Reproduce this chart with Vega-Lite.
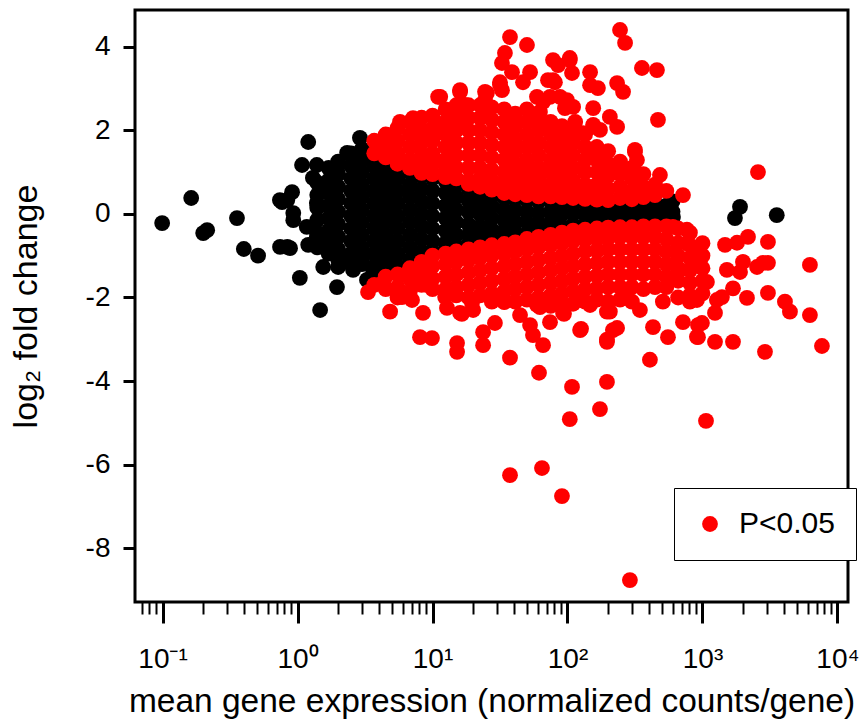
{
  "$schema": "https://vega.github.io/schema/vega-lite/v6.json",
  "width": 713,
  "height": 592,
  "autosize": {"type": "none"},
  "padding": {"left": 135, "top": 10, "right": 11, "bottom": 119},
  "background": "white",
  "config": {
    "view": {"stroke": "black", "strokeWidth": 3},
    "font": "Liberation Sans"
  },
  "datasets": {
    "ns": [
      {"m":1.4,"l":0.75},{"m":1.4,"l":0.45},{"m":1.4,"l":0.15},{"m":1.4,"l":-0.15},{"m":1.4,"l":-0.45},{"m":1.4,"l":-0.8},
      {"m":1.7,"l":1.1},{"m":1.7,"l":0.8},{"m":1.7,"l":0.5},{"m":1.7,"l":0.2},{"m":1.7,"l":-0.1},{"m":1.7,"l":-0.4},{"m":1.7,"l":-0.7},{"m":1.7,"l":-0.95},
      {"m":2,"l":1.25},{"m":2,"l":0.95},{"m":2,"l":0.65},{"m":2,"l":0.35},{"m":2,"l":0.05},{"m":2,"l":-0.25},{"m":2,"l":-0.55},{"m":2,"l":-0.85},{"m":2,"l":-1.1},
      {"m":2.5,"l":1.45},{"m":2.5,"l":1.15},{"m":2.5,"l":0.85},{"m":2.5,"l":0.55},{"m":2.5,"l":0.25},{"m":2.5,"l":-0.05},{"m":2.5,"l":-0.35},{"m":2.5,"l":-0.65},{"m":2.5,"l":-0.95},{"m":2.5,"l":-1.2},
      {"m":3,"l":1.55},{"m":3,"l":1.3},{"m":3,"l":1.0},{"m":3,"l":0.7},{"m":3,"l":0.4},{"m":3,"l":0.1},{"m":3,"l":-0.2},{"m":3,"l":-0.5},{"m":3,"l":-0.8},{"m":3,"l":-1.05},{"m":3,"l":-1.2},
      {"m":3.7,"l":1.45},{"m":3.7,"l":1.15},{"m":3.7,"l":0.85},{"m":3.7,"l":0.55},{"m":3.7,"l":0.25},{"m":3.7,"l":-0.05},{"m":3.7,"l":-0.35},{"m":3.7,"l":-0.65},{"m":3.7,"l":-0.95},{"m":3.7,"l":-1.25},
      {"m":4.5,"l":1.3},{"m":4.5,"l":1.0},{"m":4.5,"l":0.7},{"m":4.5,"l":0.4},{"m":4.5,"l":0.1},{"m":4.5,"l":-0.2},{"m":4.5,"l":-0.5},{"m":4.5,"l":-0.8},{"m":4.5,"l":-1.1},{"m":4.5,"l":-1.3},
      {"m":5.5,"l":1.15},{"m":5.5,"l":0.85},{"m":5.5,"l":0.55},{"m":5.5,"l":0.25},{"m":5.5,"l":-0.05},{"m":5.5,"l":-0.35},{"m":5.5,"l":-0.65},{"m":5.5,"l":-0.95},{"m":5.5,"l":-1.25},
      {"m":6.8,"l":1.0},{"m":6.8,"l":0.7},{"m":6.8,"l":0.4},{"m":6.8,"l":0.1},{"m":6.8,"l":-0.2},{"m":6.8,"l":-0.5},{"m":6.8,"l":-0.8},{"m":6.8,"l":-1.1},
      {"m":8.3,"l":0.9},{"m":8.3,"l":0.6},{"m":8.3,"l":0.3},{"m":8.3,"l":0},{"m":8.3,"l":-0.3},{"m":8.3,"l":-0.6},{"m":8.3,"l":-0.9},
      {"m":10,"l":0.85},{"m":10,"l":0.55},{"m":10,"l":0.25},{"m":10,"l":-0.05},{"m":10,"l":-0.35},{"m":10,"l":-0.65},{"m":10,"l":-0.9},
      {"m":12.5,"l":0.78},{"m":12.5,"l":0.5},{"m":12.5,"l":0.2},{"m":12.5,"l":-0.1},{"m":12.5,"l":-0.4},{"m":12.5,"l":-0.7},{"m":12.5,"l":-0.85},
      {"m":15,"l":0.7},{"m":15,"l":0.4},{"m":15,"l":0.1},{"m":15,"l":-0.2},{"m":15,"l":-0.5},{"m":15,"l":-0.78},
      {"m":18.5,"l":0.6},{"m":18.5,"l":0.32},{"m":18.5,"l":0.05},{"m":18.5,"l":-0.25},{"m":18.5,"l":-0.5},{"m":18.5,"l":-0.72},
      {"m":22.5,"l":0.53},{"m":22.5,"l":0.25},{"m":22.5,"l":0},{"m":22.5,"l":-0.3},{"m":22.5,"l":-0.55},{"m":22.5,"l":-0.68},
      {"m":27.5,"l":0.45},{"m":27.5,"l":0.18},{"m":27.5,"l":-0.1},{"m":27.5,"l":-0.38},{"m":27.5,"l":-0.62},
      {"m":34,"l":0.38},{"m":34,"l":0.1},{"m":34,"l":-0.15},{"m":34,"l":-0.4},{"m":34,"l":-0.6},
      {"m":41,"l":0.35},{"m":41,"l":0.08},{"m":41,"l":-0.2},{"m":41,"l":-0.45},{"m":41,"l":-0.56},
      {"m":50,"l":0.33},{"m":50,"l":0.05},{"m":50,"l":-0.2},{"m":50,"l":-0.48},
      {"m":61,"l":0.3},{"m":61,"l":0.02},{"m":61,"l":-0.25},{"m":61,"l":-0.42},
      {"m":75,"l":0.3},{"m":75,"l":0.05},{"m":75,"l":-0.2},{"m":75,"l":-0.37},
      {"m":91,"l":0.28},{"m":91,"l":0},{"m":91,"l":-0.3},
      {"m":110,"l":0.25},{"m":110,"l":0},{"m":110,"l":-0.27},
      {"m":135,"l":0.25},{"m":135,"l":0},{"m":135,"l":-0.25},
      {"m":165,"l":0.23},{"m":165,"l":0},{"m":165,"l":-0.22},
      {"m":200,"l":0.22},{"m":200,"l":-0.02},{"m":200,"l":-0.22},
      {"m":245,"l":0.22},{"m":245,"l":0},{"m":245,"l":-0.22},
      {"m":300,"l":0.22},{"m":300,"l":0},{"m":300,"l":-0.2},
      {"m":365,"l":0.2},{"m":365,"l":-0.02},{"m":365,"l":-0.2},
      {"m":445,"l":0.25},{"m":445,"l":-0.03},{"m":445,"l":-0.18},
      {"m":540,"l":0.2},{"m":540,"l":-0.05},{"m":540,"l":-0.15},
      {"m":600,"l":0.3},{"m":600,"l":0.05},{"m":600,"l":-0.1},
      {"m":408,"l":0.26},{"m":509,"l":0.14},{"m":603,"l":-0.07},
      {"m":0.0993,"l":-0.22},{"m":0.163,"l":0.38},{"m":0.2,"l":-0.46},{"m":0.214,"l":-0.39},{"m":0.356,"l":-0.1},
      {"m":0.4,"l":-0.84},{"m":0.51,"l":-1.0},{"m":0.742,"l":-0.79},{"m":0.88,"l":-0.82},{"m":0.768,"l":0.28},
      {"m":0.911,"l":0.52},{"m":0.93,"l":0.02},{"m":1.08,"l":1.17},{"m":1.04,"l":-1.53},{"m":1.2,"l":1.72},
      {"m":1.39,"l":1.17},{"m":1.96,"l":1.05},{"m":1.3,"l":0.86},{"m":1.68,"l":0.62},{"m":0.74,"l":0.33},
      {"m":1.39,"l":0.26},{"m":2.33,"l":1.46},{"m":2.9,"l":1.82},{"m":2.76,"l":1.0},{"m":1.2,"l":-0.74},
      {"m":1.55,"l":-1.27},{"m":2.0,"l":-1.27},{"m":1.96,"l":-1.75},{"m":1.47,"l":-2.3},{"m":2.45,"l":-1.03},
      {"m":3.27,"l":-1.58},{"m":4.6,"l":-1.03},{"m":0.84,"l":0.33},{"m":0.93,"l":-0.15},{"m":1.17,"l":-0.31},
      {"m":0.84,"l":-0.79},{"m":1.39,"l":-0.55},{"m":1.8,"l":-0.86},{"m":2.17,"l":-1.03},{"m":2.58,"l":-1.34},
      {"m":3.63,"l":-1.41},{"m":5.1,"l":-1.17},
      {"m":1897,"l":0.17},{"m":1740,"l":-0.1},{"m":3550,"l":-0.03}
    ],
    "sig": [
      {"m":3.7,"l":1.75},{"m":3.7,"l":1.45},
      {"m":4.5,"l":1.9},{"m":4.5,"l":1.6},{"m":4.5,"l":1.35},
      {"m":5.5,"l":2.05},{"m":5.5,"l":1.75},{"m":5.5,"l":1.45},{"m":5.5,"l":1.2},
      {"m":6.8,"l":2.2},{"m":6.8,"l":1.9},{"m":6.8,"l":1.6},{"m":6.8,"l":1.3},{"m":6.8,"l":1.1},
      {"m":8.3,"l":2.3},{"m":8.3,"l":2.0},{"m":8.3,"l":1.7},{"m":8.3,"l":1.4},{"m":8.3,"l":1.15},{"m":8.3,"l":0.98},
      {"m":10,"l":2.35},{"m":10,"l":2.05},{"m":10,"l":1.75},{"m":10,"l":1.45},{"m":10,"l":1.2},{"m":10,"l":0.95},
      {"m":12.5,"l":2.5},{"m":12.5,"l":2.2},{"m":12.5,"l":1.9},{"m":12.5,"l":1.6},{"m":12.5,"l":1.3},{"m":12.5,"l":1.05},{"m":12.5,"l":0.88},
      {"m":15,"l":2.6},{"m":15,"l":2.3},{"m":15,"l":2.0},{"m":15,"l":1.7},{"m":15,"l":1.4},{"m":15,"l":1.1},{"m":15,"l":0.85},
      {"m":18.5,"l":2.6},{"m":18.5,"l":2.3},{"m":18.5,"l":2.0},{"m":18.5,"l":1.7},{"m":18.5,"l":1.4},{"m":18.5,"l":1.1},{"m":18.5,"l":0.8},{"m":18.5,"l":0.72},
      {"m":22.5,"l":2.6},{"m":22.5,"l":2.3},{"m":22.5,"l":2.0},{"m":22.5,"l":1.7},{"m":22.5,"l":1.4},{"m":22.5,"l":1.1},{"m":22.5,"l":0.85},{"m":22.5,"l":0.65},
      {"m":27.5,"l":2.55},{"m":27.5,"l":2.25},{"m":27.5,"l":1.95},{"m":27.5,"l":1.65},{"m":27.5,"l":1.35},{"m":27.5,"l":1.05},{"m":27.5,"l":0.8},{"m":27.5,"l":0.58},
      {"m":34,"l":2.5},{"m":34,"l":2.2},{"m":34,"l":1.9},{"m":34,"l":1.6},{"m":34,"l":1.3},{"m":34,"l":1.0},{"m":34,"l":0.75},{"m":34,"l":0.5},
      {"m":41,"l":2.4},{"m":41,"l":2.1},{"m":41,"l":1.8},{"m":41,"l":1.5},{"m":41,"l":1.2},{"m":41,"l":0.9},{"m":41,"l":0.65},{"m":41,"l":0.47},
      {"m":50,"l":2.5},{"m":50,"l":2.2},{"m":50,"l":1.9},{"m":50,"l":1.6},{"m":50,"l":1.3},{"m":50,"l":1.0},{"m":50,"l":0.75},{"m":50,"l":0.45},
      {"m":61,"l":2.3},{"m":61,"l":2.0},{"m":61,"l":1.7},{"m":61,"l":1.4},{"m":61,"l":1.1},{"m":61,"l":0.85},{"m":61,"l":0.6},{"m":61,"l":0.42},
      {"m":75,"l":2.2},{"m":75,"l":1.9},{"m":75,"l":1.6},{"m":75,"l":1.3},{"m":75,"l":1.0},{"m":75,"l":0.7},{"m":75,"l":0.42},
      {"m":91,"l":2.1},{"m":91,"l":1.8},{"m":91,"l":1.5},{"m":91,"l":1.2},{"m":91,"l":0.9},{"m":91,"l":0.65},{"m":91,"l":0.4},
      {"m":110,"l":2.0},{"m":110,"l":1.7},{"m":110,"l":1.4},{"m":110,"l":1.1},{"m":110,"l":0.8},{"m":110,"l":0.55},{"m":110,"l":0.38},
      {"m":135,"l":1.9},{"m":135,"l":1.6},{"m":135,"l":1.3},{"m":135,"l":1.0},{"m":135,"l":0.7},{"m":135,"l":0.45},{"m":135,"l":0.36},
      {"m":165,"l":1.6},{"m":165,"l":1.3},{"m":165,"l":1.0},{"m":165,"l":0.7},{"m":165,"l":0.45},{"m":165,"l":0.34},
      {"m":200,"l":1.5},{"m":200,"l":1.2},{"m":200,"l":0.9},{"m":200,"l":0.6},{"m":200,"l":0.33},
      {"m":245,"l":1.25},{"m":245,"l":0.95},{"m":245,"l":0.65},{"m":245,"l":0.38},
      {"m":300,"l":1.1},{"m":300,"l":0.85},{"m":300,"l":0.55},{"m":300,"l":0.35},
      {"m":365,"l":0.95},{"m":365,"l":0.65},{"m":365,"l":0.4},
      {"m":445,"l":0.7},{"m":445,"l":0.45},
      {"m":540,"l":0.55},
      {"m":37.5,"l":4.23},{"m":50.1,"l":4.04},{"m":34.4,"l":3.85},{"m":32.7,"l":3.61},{"m":38.8,"l":3.39},
      {"m":46.8,"l":3.15},{"m":52.8,"l":3.39},{"m":31.6,"l":3.15},{"m":32.7,"l":2.96},{"m":16.0,"l":2.92},
      {"m":25.3,"l":2.89},{"m":24.5,"l":2.72},{"m":11.4,"l":2.8},{"m":59.4,"l":2.8},{"m":71.7,"l":3.2},
      {"m":80.7,"l":3.15},{"m":85.1,"l":3.56},{"m":104,"l":3.73},{"m":108,"l":3.37},{"m":147,"l":3.39},
      {"m":147,"l":3.08},{"m":168,"l":3.01},{"m":233,"l":3.13},{"m":258,"l":2.92},{"m":245,"l":4.4},
      {"m":267,"l":4.09},{"m":356,"l":3.49},{"m":460,"l":3.44},{"m":468,"l":2.25},{"m":74.2,"l":2.8},
      {"m":99.1,"l":2.72},{"m":95.7,"l":2.53},{"m":155,"l":2.53},{"m":206,"l":2.32},{"m":233,"l":2.08},
      {"m":114,"l":2.2},{"m":130,"l":1.93},{"m":155,"l":2.13},{"m":174,"l":2.01},{"m":62.5,"l":2.44},
      {"m":74.2,"l":2.13},{"m":16.0,"l":2.41},{"m":17.4,"l":2.61},{"m":15.5,"l":2.13},{"m":25.3,"l":2.37},
      {"m":316,"l":1.48},{"m":327,"l":1.29},{"m":155,"l":1.34},{"m":11.0,"l":2.8},{"m":16.0,"l":2.96},
      {"m":24.5,"l":2.92},{"m":31.6,"l":3.09},{"m":4.6,"l":1.89},{"m":5.74,"l":2.2},{"m":7.17,"l":2.29},
      {"m":10.8,"l":2.13},{"m":7.68,"l":1.96},{"m":9.91,"l":1.84},{"m":65.9,"l":2.68},{"m":78.1,"l":3.2},
      {"m":104,"l":3.68},{"m":155,"l":2.08},{"m":110,"l":2.56},{"m":88,"l":2.8},{"m":4.08,"l":1.6},
      {"m":78.1,"l":3.68},{"m":217,"l":1.05},{"m":276,"l":0.98},{"m":327,"l":0.98},{"m":388,"l":0.5},
      {"m":484,"l":0.93},{"m":717,"l":0.45},{"m":2577,"l":1.0},{"m":316,"l":1.53},
      {"m":3.7,"l":-1.7},
      {"m":4.5,"l":-1.5},{"m":4.5,"l":-1.8},
      {"m":5.5,"l":-1.45},{"m":5.5,"l":-1.75},{"m":5.5,"l":-2.0},
      {"m":6.8,"l":-1.3},{"m":6.8,"l":-1.55},{"m":6.8,"l":-1.85},
      {"m":8.3,"l":-1.15},{"m":8.3,"l":-1.4},{"m":8.3,"l":-1.7},
      {"m":10,"l":-1.0},{"m":10,"l":-1.25},{"m":10,"l":-1.55},{"m":10,"l":-1.8},
      {"m":12.5,"l":-0.95},{"m":12.5,"l":-1.2},{"m":12.5,"l":-1.5},{"m":12.5,"l":-1.8},
      {"m":15,"l":-0.9},{"m":15,"l":-1.15},{"m":15,"l":-1.45},{"m":15,"l":-1.75},{"m":15,"l":-1.95},
      {"m":18.5,"l":-0.85},{"m":18.5,"l":-1.1},{"m":18.5,"l":-1.4},{"m":18.5,"l":-1.7},{"m":18.5,"l":-2.0},
      {"m":22.5,"l":-0.8},{"m":22.5,"l":-1.05},{"m":22.5,"l":-1.35},{"m":22.5,"l":-1.65},{"m":22.5,"l":-1.95},
      {"m":27.5,"l":-0.75},{"m":27.5,"l":-1.0},{"m":27.5,"l":-1.3},{"m":27.5,"l":-1.6},{"m":27.5,"l":-1.9},{"m":27.5,"l":-2.1},
      {"m":34,"l":-0.72},{"m":34,"l":-0.95},{"m":34,"l":-1.25},{"m":34,"l":-1.55},{"m":34,"l":-1.85},{"m":34,"l":-2.1},
      {"m":41,"l":-0.68},{"m":41,"l":-0.9},{"m":41,"l":-1.2},{"m":41,"l":-1.5},{"m":41,"l":-1.8},{"m":41,"l":-2.1},
      {"m":50,"l":-0.6},{"m":50,"l":-0.85},{"m":50,"l":-1.15},{"m":50,"l":-1.45},{"m":50,"l":-1.75},{"m":50,"l":-2.05},
      {"m":61,"l":-0.55},{"m":61,"l":-0.8},{"m":61,"l":-1.1},{"m":61,"l":-1.4},{"m":61,"l":-1.7},{"m":61,"l":-2.0},
      {"m":75,"l":-0.5},{"m":75,"l":-0.75},{"m":75,"l":-1.05},{"m":75,"l":-1.35},{"m":75,"l":-1.65},{"m":75,"l":-1.95},{"m":75,"l":-2.2},
      {"m":91,"l":-0.45},{"m":91,"l":-0.7},{"m":91,"l":-1.0},{"m":91,"l":-1.3},{"m":91,"l":-1.6},{"m":91,"l":-1.9},{"m":91,"l":-2.15},
      {"m":110,"l":-0.4},{"m":110,"l":-0.65},{"m":110,"l":-0.95},{"m":110,"l":-1.25},{"m":110,"l":-1.55},{"m":110,"l":-1.85},{"m":110,"l":-2.15},
      {"m":135,"l":-0.38},{"m":135,"l":-0.62},{"m":135,"l":-0.9},{"m":135,"l":-1.2},{"m":135,"l":-1.5},{"m":135,"l":-1.8},{"m":135,"l":-2.1},
      {"m":165,"l":-0.35},{"m":165,"l":-0.6},{"m":165,"l":-0.88},{"m":165,"l":-1.18},{"m":165,"l":-1.48},{"m":165,"l":-1.78},{"m":165,"l":-2.05},
      {"m":200,"l":-0.33},{"m":200,"l":-0.58},{"m":200,"l":-0.85},{"m":200,"l":-1.15},{"m":200,"l":-1.45},{"m":200,"l":-1.75},{"m":200,"l":-2.1},
      {"m":245,"l":-0.32},{"m":245,"l":-0.55},{"m":245,"l":-0.85},{"m":245,"l":-1.15},{"m":245,"l":-1.45},{"m":245,"l":-1.75},{"m":245,"l":-2.05},
      {"m":300,"l":-0.32},{"m":300,"l":-0.55},{"m":300,"l":-0.85},{"m":300,"l":-1.15},{"m":300,"l":-1.45},{"m":300,"l":-1.75},{"m":300,"l":-2.1},
      {"m":365,"l":-0.3},{"m":365,"l":-0.55},{"m":365,"l":-0.85},{"m":365,"l":-1.15},{"m":365,"l":-1.45},{"m":365,"l":-1.8},
      {"m":445,"l":-0.3},{"m":445,"l":-0.55},{"m":445,"l":-0.85},{"m":445,"l":-1.15},{"m":445,"l":-1.45},{"m":445,"l":-1.75},
      {"m":540,"l":-0.3},{"m":540,"l":-0.6},{"m":540,"l":-0.9},{"m":540,"l":-1.2},{"m":540,"l":-1.5},{"m":540,"l":-1.75},
      {"m":660,"l":-0.35},{"m":660,"l":-0.7},{"m":660,"l":-1.0},{"m":660,"l":-1.3},{"m":660,"l":-1.6},{"m":660,"l":-2.0},
      {"m":807,"l":-0.45},{"m":807,"l":-0.75},{"m":807,"l":-1.05},{"m":807,"l":-1.35},{"m":807,"l":-1.65},{"m":807,"l":-1.95},
      {"m":1000,"l":-0.7},{"m":1000,"l":-1.0},{"m":1000,"l":-1.3},{"m":1000,"l":-1.6},{"m":1000,"l":-1.9},
      {"m":3.33,"l":-1.87},{"m":4.3,"l":-1.65},{"m":4.85,"l":-2.34},{"m":5.94,"l":-1.99},{"m":6.26,"l":-1.46},
      {"m":7.05,"l":-2.06},{"m":8.51,"l":-2.37},{"m":8.08,"l":-2.95},{"m":9.91,"l":-2.97},{"m":9.1,"l":-1.7},
      {"m":12.4,"l":-1.99},{"m":12.8,"l":-2.25},{"m":16.0,"l":-2.37},{"m":15.2,"l":-3.09},{"m":19.6,"l":-2.13},
      {"m":23.7,"l":-2.83},{"m":23.7,"l":-3.14},{"m":29.0,"l":-2.61},{"m":33.3,"l":-2.01},{"m":44.5,"l":-2.42},
      {"m":52.8,"l":-2.66},{"m":55.5,"l":-2.9},{"m":65.9,"l":-3.14},{"m":74.2,"l":-2.59},{"m":59.4,"l":-2.18},
      {"m":92.7,"l":-2.37},{"m":124,"l":-2.78},{"m":196,"l":-3.01},{"m":196,"l":-2.34},{"m":233,"l":-2.73},
      {"m":344,"l":-2.3},{"m":430,"l":-2.71},{"m":555,"l":-2.95},{"m":717,"l":-2.59},{"m":926,"l":-2.66},
      {"m":926,"l":-2.95},{"m":408,"l":-3.49},{"m":37.5,"l":-3.44},{"m":130,"l":-2.06},{"m":258,"l":-2.01},
      {"m":509,"l":-2.1},{"m":807,"l":-2.1},{"m":15.2,"l":-3.3},{"m":16.5,"l":-2.39},{"m":20,"l":-2.3},
      {"m":34,"l":-2.11},{"m":61.5,"l":-3.8},{"m":62.5,"l":-2.23},{"m":94.2,"l":-2.39},{"m":108,"l":-4.14},
      {"m":104,"l":-4.91},{"m":126,"l":-2.75},{"m":196,"l":-4.02},{"m":174,"l":-4.67},{"m":196,"l":-3.06},
      {"m":217,"l":-2.78},{"m":206,"l":-2.34},{"m":147,"l":-2.18},{"m":37.5,"l":-6.25},{"m":64.7,"l":-6.08},
      {"m":91,"l":-6.75},{"m":290,"l":-8.76},{"m":1062,"l":-4.95},
      {"m":1469,"l":-0.74},{"m":1803,"l":-0.69},{"m":2173,"l":-0.55},{"m":3055,"l":-0.67},{"m":3055,"l":-1.17},
      {"m":1995,"l":-1.15},{"m":2535,"l":-1.27},{"m":6252,"l":-1.22},{"m":3055,"l":-1.89},{"m":4083,"l":-2.1},
      {"m":4446,"l":-2.34},{"m":6252,"l":-2.42},{"m":7674,"l":-3.16},{"m":2904,"l":-3.3},{"m":1683,"l":-3.06},
      {"m":1238,"l":-3.06},{"m":910,"l":-2.94},{"m":991,"l":-2.61},{"m":1238,"l":-2.37},{"m":1393,"l":-1.99},
      {"m":1683,"l":-1.78},{"m":2136,"l":-2.01},{"m":1517,"l":-1.34},{"m":1897,"l":-1.39},{"m":1279,"l":-2.06},
      {"m":910,"l":-2.06},{"m":1079,"l":-1.63},{"m":958,"l":-1.1},{"m":767,"l":-0.7},{"m":767,"l":-0.38},
      {"m":604,"l":-0.31},{"m":910,"l":-0.86},{"m":681,"l":-1.34},{"m":2805,"l":-1.17}
    ]
  },
  "resolve": {"axis": {"x": "independent"}},
  "layer": [
    {
      "data": {"name": "ns"},
      "mark": {"type": "circle", "size": 250, "opacity": 1, "color": "#000000", "strokeWidth": 0, "clip": true},
      "encoding": {
        "x": {
          "field": "m", "type": "quantitative",
          "scale": {"type": "log", "domain": [0.0625, 11970], "nice": false},
          "axis": {
            "orient": "bottom",
            "values": [0.1, 1, 10, 100, 1000, 10000],
            "labelExpr": "datum.value < 0.5 ? '10⁻¹' : datum.value < 5 ? '10⁰' : datum.value < 50 ? '10¹' : datum.value < 500 ? '10²' : datum.value < 5000 ? '10³' : '10⁴'",
            "tickSize": 21, "tickWidth": 3, "tickColor": "black",
            "domain": false, "grid": false,
            "labelFont": "Liberation Sans", "labelFontSize": 28, "labelColor": "black",
            "labelBaseline": "alphabetic", "labelPadding": 44, "labelFlush": false, "labelOverlap": false,
            "title": "mean gene expression (normalized counts/gene)",
            "titleFont": "Liberation Sans", "titleFontSize": 33.5, "titleFontWeight": "normal", "titleColor": "black",
            "titleBaseline": "alphabetic", "titleY": 109
          }
        },
        "y": {
          "field": "l", "type": "quantitative",
          "scale": {"domain": [-9.285, 4.878], "nice": false, "zero": false},
          "axis": {
            "values": [-8, -6, -4, -2, 0, 2, 4],
            "labelExpr": "datum.value + ''",
            "tickSize": 12, "tickWidth": 3, "tickColor": "black",
            "domain": false, "grid": false,
            "labelFont": "Liberation Sans", "labelFontSize": 28, "labelColor": "black", "labelPadding": 13,
            "title": "log₂ fold change",
            "titleFont": "Liberation Sans", "titleFontSize": 34, "titleFontWeight": "normal", "titleColor": "black",
            "titleBaseline": "alphabetic", "titleX": -99
          }
        }
      }
    },
    {
      "data": {"name": "sig"},
      "mark": {"type": "circle", "size": 250, "opacity": 1, "strokeWidth": 0, "clip": true},
      "encoding": {
        "x": {
          "field": "m", "type": "quantitative",
          "scale": {"type": "log", "domain": [0.0625, 11970], "nice": false},
          "axis": {
            "orient": "bottom",
            "values": [0.07, 0.08, 0.09, 0.2, 0.3, 0.4, 0.5, 0.6, 0.7, 0.8, 0.9, 2, 3, 4, 5, 6, 7, 8, 9, 20, 30, 40, 50, 60, 70, 80, 90, 200, 300, 400, 500, 600, 700, 800, 900, 2000, 3000, 4000, 5000, 6000, 7000, 8000, 9000],
            "tickSize": 12, "tickWidth": 2, "tickColor": "black",
            "labels": false, "domain": false, "grid": false, "title": null
          }
        },
        "y": {"field": "l", "type": "quantitative"},
        "color": {
          "datum": "P<0.05", "type": "nominal",
          "scale": {"range": ["#FF0000"]},
          "legend": {
            "orient": "none", "legendX": 539, "legendY": 478,
            "title": null, "padding": 21, "labelOffset": 14,
            "labelFont": "Liberation Sans", "labelFontSize": 30, "labelColor": "black",
            "symbolType": "circle", "symbolSize": 250, "symbolStrokeWidth": 0,
            "strokeColor": "black", "fillColor": "white", "cornerRadius": 0,
            "encode": {"legend": {"update": {"strokeWidth": {"value": 3}}}}
          }
        }
      }
    },
    {
      "mark": {"type": "rule", "color": "#0000FF", "strokeWidth": 3},
      "encoding": {"y": {"datum": 1.5, "type": "quantitative"}}
    },
    {
      "mark": {"type": "rule", "color": "#0000FF", "strokeWidth": 3},
      "encoding": {"y": {"datum": -1.5, "type": "quantitative"}}
    },
    {
      "mark": {"type": "rule", "color": "#FF0000", "strokeWidth": 3},
      "encoding": {"y": {"datum": 0, "type": "quantitative"}}
    }
  ]
}
